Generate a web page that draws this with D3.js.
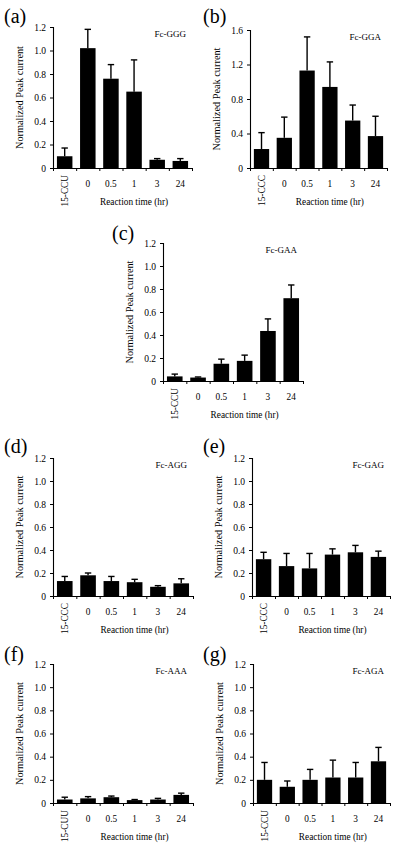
<!DOCTYPE html>
<html><head><meta charset="utf-8">
<script src="https://cdn.jsdelivr.net/npm/d3@7"></script>
<style>
html,body{margin:0;padding:0;background:#fff;}
svg{display:block;}
svg text{font-family:"Liberation Serif","Times New Roman",serif !important;}
</style></head>
<body>
<svg id="chart" width="400" height="852"></svg>
<script>
// ---- data ----
const panelLetters = ["(a)", "(b)", "(c)", "(d)", "(e)", "(f)", "(g)"];
const panelTitles = ["Fc-GGG", "Fc-GGA", "Fc-GAA", "Fc-AGG", "Fc-GAG", "Fc-AAA", "Fc-AGA"];
const controlLabels = ["15-CCU", "15-CCC", "15-CCU", "15-CCC", "15-CCC", "15-CUU", "15-CCU"];
const timeLabels = ["0", "0.5", "1", "3", "24"];
const yMaxes = [1.2, 1.6, 1.2, 1.2, 1.2, 1.2, 1.2];
const yTickStep = [0.2, 0.4, 0.2, 0.2, 0.2, 0.2, 0.2];
const yAxisTitle = "Normalized Peak current";
const xAxisTitle = "Reaction time (hr)";

const meanA = [0.10, 1.02, 0.76, 0.65, 0.07, 0.06];
const errA  = [0.07, 0.16, 0.12, 0.27, 0.01, 0.02];
const meanB = [0.22, 0.35, 1.13, 0.94, 0.55, 0.37];
const errB  = [0.19, 0.24, 0.39, 0.29, 0.18, 0.23];
const meanC = [0.04, 0.03, 0.15, 0.175, 0.435, 0.72];
const errC  = [0.02, 0.005, 0.04, 0.05, 0.105, 0.115];
const meanD = [0.13, 0.18, 0.13, 0.12, 0.08, 0.11];
const errD  = [0.04, 0.02, 0.04, 0.025, 0.01, 0.04];
const meanE = [0.32, 0.26, 0.24, 0.36, 0.38, 0.34];
const errE  = [0.06, 0.11, 0.13, 0.05, 0.06, 0.05];
const meanF = [0.03, 0.04, 0.05, 0.025, 0.03, 0.07];
const errF  = [0.02, 0.015, 0.01, 0.005, 0.01, 0.015];
const meanG = [0.20, 0.14, 0.20, 0.22, 0.22, 0.36];
const errG  = [0.15, 0.05, 0.09, 0.15, 0.13, 0.12];

const means = [meanA, meanB, meanC, meanD, meanE, meanF, meanG];
const errs = [errA, errB, errC, errD, errE, errF, errG];

// ---- layout (pixel frames of each panel) ----
const frames = [
  {x0: 53,  x1: 192, yTop: 27,  y0: 168, lx: 4,   ly: 23},
  {x0: 250, x1: 387, yTop: 30,  y0: 168, lx: 203, ly: 23},
  {x0: 163, x1: 303, yTop: 243, y0: 381, lx: 112, ly: 240},
  {x0: 53,  x1: 193, yTop: 458, y0: 596, lx: 4,   ly: 453},
  {x0: 252, x1: 390, yTop: 458, y0: 596, lx: 203, ly: 453},
  {x0: 53,  x1: 193, yTop: 664, y0: 803, lx: 4,   ly: 661},
  {x0: 253, x1: 390, yTop: 664, y0: 803, lx: 203, ly: 661}
];

const TICK_FS = 9.5, CAT_FS = 9.3, XT_FS = 9.3, YT_FS = 10.3, TITLE_FS = 9;
const svg = d3.select("#chart");

frames.forEach((f, i) => {
  const cats = [controlLabels[i]].concat(timeLabels);
  const data = cats.map((c, k) => ({cat: c, v: means[i][k], e: errs[i][k]}));
  const g = svg.append("g");

  const x = d3.scaleBand().domain(cats).range([f.x0, f.x1]).paddingInner(0.33).paddingOuter(0.17);
  const xi = d3.scaleLinear().domain([0, cats.length]).range([f.x0, f.x1]);
  const y = d3.scaleLinear().domain([0, yMaxes[i]]).range([f.y0, f.yTop]);

  // bars
  g.selectAll("rect.bar").data(data).enter().append("rect")
    .attr("x", d => x(d.cat)).attr("width", x.bandwidth())
    .attr("y", d => y(d.v)).attr("height", d => y(0) - y(d.v))
    .attr("fill", "#000");

  // error bars (upper only)
  const cap = 3.2;
  g.selectAll("line.err").data(data).enter().append("line")
    .attr("x1", d => x(d.cat) + x.bandwidth() / 2).attr("x2", d => x(d.cat) + x.bandwidth() / 2)
    .attr("y1", d => y(d.v)).attr("y2", d => y(d.v + d.e))
    .attr("stroke", "#000").attr("stroke-width", 1.4);
  g.selectAll("line.cap").data(data).enter().append("line")
    .attr("x1", d => x(d.cat) + x.bandwidth() / 2 - cap).attr("x2", d => x(d.cat) + x.bandwidth() / 2 + cap)
    .attr("y1", d => y(d.v + d.e)).attr("y2", d => y(d.v + d.e))
    .attr("stroke", "#000").attr("stroke-width", 1.4);

  // y axis
  const ticks = d3.range(0, yMaxes[i] + 1e-9, yTickStep[i]).map(t => +t.toFixed(2));
  const yAxis = g.append("g").attr("transform", `translate(${f.x0},0)`)
    .call(d3.axisLeft(y).tickValues(ticks).tickSize(3).tickPadding(4)
      .tickFormat(t => t === 0 ? "0" : d3.format(".1f")(t)));
  yAxis.select(".domain").attr("stroke", "#000").attr("stroke-width", 1.1);
  yAxis.selectAll(".tick line").attr("stroke", "#000").attr("stroke-width", 1);
  yAxis.selectAll("text").attr("font-size", TICK_FS).attr("fill", "#000");

  // x axis (boundary ticks)
  const xAxis = g.append("g").attr("transform", `translate(0,${f.y0})`)
    .call(d3.axisBottom(xi).tickValues(d3.range(0, cats.length + 1)).tickSize(3).tickSizeOuter(0).tickFormat(""));
  xAxis.select(".domain").attr("stroke", "#000").attr("stroke-width", 1.1);
  xAxis.selectAll(".tick line").attr("stroke", "#000").attr("stroke-width", 1);

  // category labels
  const xl = g.append("g").attr("transform", `translate(0,${f.y0})`)
    .call(d3.axisBottom(x).tickSize(0).tickPadding(12));
  xl.select(".domain").remove();
  xl.selectAll("text").attr("font-size", CAT_FS).attr("fill", "#000");
  xl.selectAll(".tick").filter((d, k) => k === 0).select("text")
    .attr("transform", "rotate(-90)")
    .attr("text-anchor", "end")
    .attr("x", -7).attr("y", 3).attr("dy", "0").attr("dx", "0");

  // axis titles
  const timeCenter = (x(timeLabels[0]) + x(timeLabels[timeLabels.length - 1]) + x.bandwidth()) / 2;
  g.append("text").attr("x", timeCenter).attr("y", f.y0 + 37)
    .attr("text-anchor", "middle").attr("font-size", XT_FS).attr("fill", "#000").text(xAxisTitle);
  g.append("text")
    .attr("transform", `translate(${f.x0 - 30},${(f.y0 + f.yTop) / 2}) rotate(-90)`)
    .attr("text-anchor", "middle").attr("font-size", YT_FS).attr("fill", "#000").text(yAxisTitle);

  // panel title & letter
  g.append("text").attr("x", f.x1 - 6).attr("y", f.yTop + 10)
    .attr("text-anchor", "end").attr("font-size", TITLE_FS).attr("fill", "#000").text(panelTitles[i]);
  g.append("text").attr("x", f.lx).attr("y", f.ly)
    .attr("font-size", 20).attr("fill", "#000").text(panelLetters[i]);
});
</script>
</body></html>
